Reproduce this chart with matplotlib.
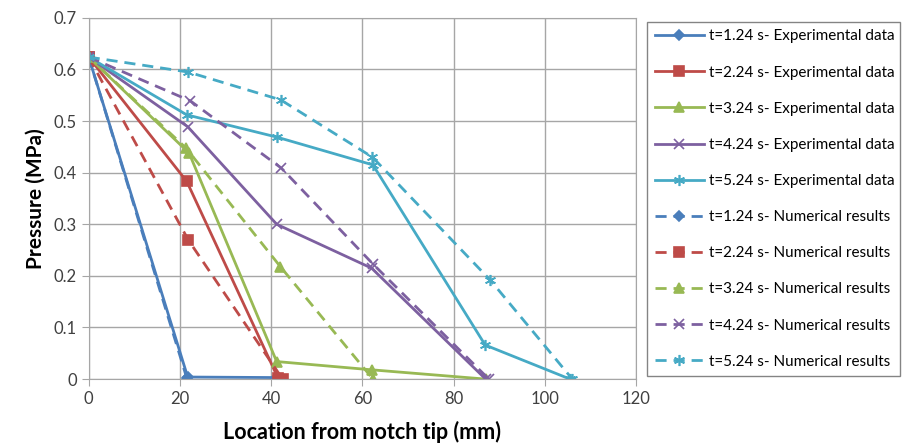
import matplotlib.pyplot as plt

plt.rcParams['font.family'] = ['Lato', 'DejaVu Sans']

# experimental data
x_exp_1 = [0, 21.7, 41]
p_exp_1 = [0.624, 0.004, 0.003]
x_exp_2 = [0, 21.5, 41.5]
p_exp_2 = [0.624, 0.383, 0.002]
x_exp_3 = [0, 22, 41.2, 62, 87]
p_exp_3 = [0.624, 0.438, 0.034, 0.018, 0.0]
x_exp_4 = [0, 21.7, 41.2, 62, 87]
p_exp_4 = [0.624, 0.489, 0.300, 0.215, 0.0]
x_exp_5 = [0, 21.5, 41.2, 62.3, 86.9, 105.5]
p_exp_5 = [0.624, 0.512, 0.469, 0.415, 0.066, 0.0]

# numerical results
x_num_1 = [0, 21.5]
p_num_1 = [0.624, 0.002]
x_num_2 = [0, 21.8, 42.5]
p_num_2 = [0.624, 0.270, 0.0]
x_num_3 = [0, 21.3, 42, 62.3]
p_num_3 = [0.624, 0.448, 0.218, 0.0]
x_num_4 = [0, 22.3, 42.2, 62.3, 87.7]
p_num_4 = [0.624, 0.539, 0.409, 0.223, 0.0]
x_num_5 = [0, 21.8, 42.1, 62.2, 88, 106]
p_num_5 = [0.624, 0.595, 0.541, 0.430, 0.192, 0.0]

times = ["1.24", "2.24", "3.24", "4.24", "5.24"]
colors = ["#4A7EBB", "#BE4B48", "#98B954", "#7D60A0", "#46AAC5"]
markers = ["D", "s", "^", "x", (6, 2, 0)]
msizes = [5, 7, 7, 7, 8]

exp = [(x_exp_1, p_exp_1), (x_exp_2, p_exp_2), (x_exp_3, p_exp_3),
       (x_exp_4, p_exp_4), (x_exp_5, p_exp_5)]
num = [(x_num_1, p_num_1), (x_num_2, p_num_2), (x_num_3, p_num_3),
       (x_num_4, p_num_4), (x_num_5, p_num_5)]

fig = plt.figure(figsize=(9.05, 4.46), dpi=100)
ax = fig.add_axes([0.098, 0.150, 0.605, 0.810])

for i in range(5):
    ax.plot(exp[i][0], exp[i][1], color=colors[i], lw=2, marker=markers[i],
            ms=msizes[i], mew=1.2, label="t=" + times[i] + " s- Experimental data")
for i in range(5):
    ax.plot(num[i][0], num[i][1], color=colors[i], lw=2, ls=(0, (4, 2.5)),
            marker=markers[i], ms=msizes[i], mew=1.2,
            label="t=" + times[i] + " s- Numerical results")

ax.set_xlim(0, 120)
ax.set_ylim(0, 0.7)
ax.set_xticks(range(0, 121, 20))
ax.set_yticks([i / 10 for i in range(8)])
ax.set_yticklabels(["0"] + ["%.1f" % (i / 10) for i in range(1, 8)])
ax.grid(True, color="#A6A6A6", lw=1)
ax.set_axisbelow(True)
for s in ax.spines.values():
    s.set_color("#A6A6A6")
ax.tick_params(labelsize=12, length=5, color="#A6A6A6", labelcolor="#404040")
ax.set_xlabel("Location from notch tip (mm)", fontsize=15.5, fontweight="bold",
              labelpad=10)
ax.set_ylabel("Pressure (MPa)", fontsize=15, fontweight="bold", labelpad=6)

fig.legend(loc="upper left", bbox_to_anchor=(0.712, 0.146, 0.286, 0.812),
           mode="expand", fontsize=11, handlelength=3.2, handletextpad=0.3,
           labelspacing=1.45, borderpad=0.5, frameon=True, fancybox=False,
           edgecolor="#666666", borderaxespad=0.2)

fig.savefig("out.png", dpi=100)
